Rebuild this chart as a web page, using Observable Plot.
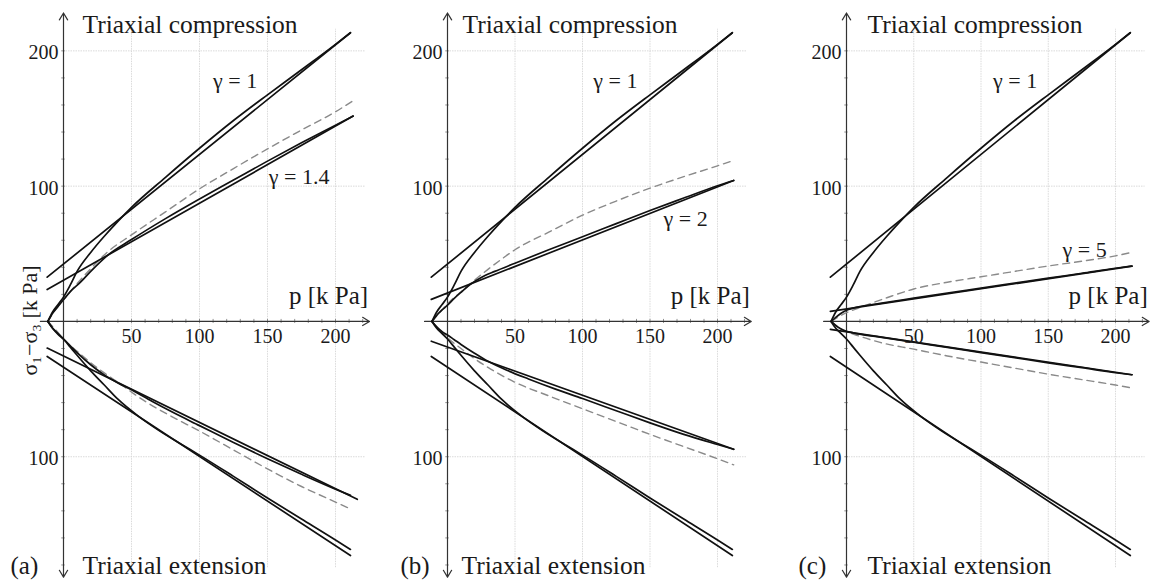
<!DOCTYPE html>
<html><head><meta charset="utf-8">
<script src="https://cdn.jsdelivr.net/npm/d3@7"></script>
<script src="https://cdn.jsdelivr.net/npm/@observablehq/plot@0.6"></script>
<style>
body{margin:0;background:#fff;}
#wrap{position:relative;width:1153px;height:583px;overflow:hidden;background:#fff;}
#wrap svg{position:absolute;top:0;overflow:visible;}
</style></head><body><div id="wrap"></div>
<script>
// ---------- axis / tick data ----------
const P_TICKS = [50, 100, 150, 200];
const P_MINOR = [10, 20, 30, 40, 60, 70, 80, 90, 110, 120, 130, 140, 160, 170, 180, 190, 210, 220];
const Q_LABELS = [200, 100, -100];
const Q_MINOR = [20, 40, 60, 80, 120, 140, 160, 180, -20, -40, -60, -80, -120, -140, -160, -180];
const AXIS_P = [-17, 225];
const AXIS_Q = [-189, 228];
const GRID_Q_SPAN = [-182, 216];
const GRID_P_SPAN = [0, 222];

const PANEL_IDS = ["(a)", "(b)", "(c)"];
const GAMMA_TEXT = ["γ = 1.4", "γ = 2", "γ = 5"];
const GAMMA_P = [151, 160, 160.6];
const GAMMA_Q = [107, 76, 52.5];
const GAMMA1_TEXT = "γ = 1";
const GAMMA1_P = [110, 108, 109];
const GAMMA1_Q = 178;
const TITLE_TOP = "Triaxial compression";
const TITLE_BOTTOM = "Triaxial extension";
const TITLE_Q = [219, -181];
const P_LABEL = "p [k Pa]";
const P_LABEL_POS = [224, 18.5];
const Q_LABEL = "σ₁−σ₃ [k Pa]";
const Q_LABEL_POS = [-25, 0.7];

// ---------- gamma = 1 (same in all panels) ----------
const G1_COMP_LINE_P = [-12, 211];
const G1_COMP_LINE_Q = [32.7, 213.4];
const G1_COMP_CURVE_P = [-11.5, -8, -4, 0, 5, 10, 20, 30, 40, 50, 75, 100, 125, 150, 175, 200, 211];
const G1_COMP_CURVE_Q = [0, 7, 12.5, 18, 27, 37, 51, 63, 74, 84.3, 106.5, 128, 148.5, 167.5, 186, 204.8, 213.4];
const G1_EXT_LINE_P = [-12, 211];
const G1_EXT_LINE_Q = [-25.9, -173];
const G1_EXT_CURVE_P = [-11.5, -8, -4, 0, 5, 10, 20, 30, 40, 55, 70, 86, 100, 125, 150, 175, 200, 211];
const G1_EXT_CURVE_Q = [0, -5, -9, -13, -19, -25, -36.5, -47, -57.5, -70, -80.5, -90.4, -98.8, -114.5, -130.5, -146, -161.5, -168.5];

// ---------- panel (a): gamma = 1.4 ----------
const A_COMP_LINE_P = [-12, 213];
const A_COMP_LINE_Q = [23.6, 151.8];
const A_COMP_CURVE_P = [-11.5, -8, -4, 0, 5, 12.5, 20, 32, 50, 75, 100, 125, 150, 175, 200, 213];
const A_COMP_CURVE_Q = [0, 6, 11, 16, 22, 29, 37, 48.5, 60.5, 76, 90.5, 104.5, 118.5, 132, 145, 151.8];
const A_EXT_LINE_P = [-12, 216];
const A_EXT_LINE_Q = [-19.7, -131.5];
const A_EXT_CURVE_P = [-11.5, -8, -4, 0, 5, 10, 20, 30, 40, 50, 65, 80, 100, 125, 150, 175, 200, 211];
const A_EXT_CURVE_Q = [0, -5, -9.5, -13, -18, -23, -32, -39.5, -45.5, -50.5, -59, -67, -77, -89.5, -101.5, -113, -124, -128.5];
const A_DASH_COMP_P = [-11.5, -5, 0, 10, 20, 32, 50, 75, 100, 125, 150, 175, 200, 212];
const A_DASH_COMP_Q = [0, 10, 16, 28, 39, 51, 64, 81, 98, 113, 127.5, 141.5, 155, 162.5];
const A_DASH_EXT_P = [-11.5, -5, 0, 10, 20, 30, 40, 59, 80, 100, 125, 150, 175, 200, 212];
const A_DASH_EXT_Q = [0, -7, -13, -22, -30.5, -38, -45, -58.4, -70.5, -81, -95, -109, -122, -133.5, -139];

// ---------- panel (b): gamma = 2 ----------
const B_COMP_LINE_P = [-12, 212];
const B_COMP_LINE_Q = [16.3, 104.2];
const B_COMP_CURVE_P = [-11.5, -8, -4, 0, 5, 10, 17, 25, 35, 50, 75, 100, 125, 150, 175, 200, 212];
const B_COMP_CURVE_Q = [0, 4.5, 8.5, 12, 17, 21.5, 27.5, 32.5, 37, 43, 53, 62.6, 72.3, 82, 91.2, 100.3, 104.2];
const B_EXT_LINE_P = [-12, 212];
const B_EXT_LINE_Q = [-14.6, -94.5];
const B_EXT_CURVE_P = [-11.5, -8, -4, 0, 5, 10, 20, 30, 45, 60, 80, 100, 125, 150, 175, 200, 212];
const B_EXT_CURVE_Q = [0, -4, -7.5, -10, -13.5, -17, -23.5, -29.5, -36.5, -42.5, -50, -57, -66, -75, -83.5, -91, -94.5];
const B_DASH_COMP_P = [-11.5, -5, 0, 10, 20, 30, 40, 50, 75, 100, 125, 150, 175, 200, 212];
const B_DASH_COMP_Q = [0, 7.5, 13, 22, 30.5, 38.5, 46, 53, 66, 78.5, 89, 98.5, 107, 115, 119];
const B_DASH_EXT_P = [-11.5, -5, 0, 10, 20, 30, 50, 75, 100, 125, 150, 175, 200, 212];
const B_DASH_EXT_Q = [0, -7, -12, -20, -27.5, -34, -45, -55, -64.5, -74, -83.5, -92.5, -101.5, -106];

// ---------- panel (c): gamma = 5 ----------
const C_COMP_LINE_P = [-12, 212.4];
const C_COMP_LINE_Q = [7.4, 40.9];
const C_COMP_CURVE_P = [-11.3, -8, -4, 0, 5, 10, 25, 50, 75, 100, 125, 150, 175, 200, 212];
const C_COMP_CURVE_Q = [0, 3, 6, 8.3, 9.8, 11, 13.4, 17.2, 21, 24.6, 28.3, 32, 35.6, 39.3, 40.9];
const C_EXT_LINE_P = [-12, 212.4];
const C_EXT_LINE_Q = [-5.8, -39.4];
const C_EXT_CURVE_P = [-11.3, -8, -4, 0, 5, 10, 25, 50, 75, 100, 125, 150, 175, 200, 212];
const C_EXT_CURVE_Q = [0, -3, -5.5, -7.2, -8.4, -9.4, -11.6, -15.4, -19.2, -23, -26.8, -30.6, -34.2, -37.9, -39.4];
const C_DASH_COMP_P = [-11.3, -5, 0, 8, 20, 30, 50, 75, 100, 125, 150, 175, 200, 211];
const C_DASH_COMP_Q = [0, 4, 6.5, 9.5, 14, 17.5, 24, 29, 33, 37, 41, 44.5, 48.5, 50.8];
const C_DASH_EXT_P = [-11.3, -5, 0, 10, 25, 50, 75, 100, 125, 150, 175, 200, 211];
const C_DASH_EXT_Q = [0, -5, -7.5, -11, -15.5, -20.5, -25.5, -30, -34.5, -39, -43, -47, -49];

// ---------- build tables ----------
const zip = (key, ps, qs) => ps.map((p, i) => ({key, p, q: qs[i]}));
const PANEL_SOLID = [
  [["ac", A_COMP_LINE_P, A_COMP_LINE_Q], ["acc", A_COMP_CURVE_P, A_COMP_CURVE_Q], ["ae", A_EXT_LINE_P, A_EXT_LINE_Q], ["aec", A_EXT_CURVE_P, A_EXT_CURVE_Q]],
  [["bc", B_COMP_LINE_P, B_COMP_LINE_Q], ["bcc", B_COMP_CURVE_P, B_COMP_CURVE_Q], ["be", B_EXT_LINE_P, B_EXT_LINE_Q], ["bec", B_EXT_CURVE_P, B_EXT_CURVE_Q]],
  [["cc", C_COMP_LINE_P, C_COMP_LINE_Q], ["ccc", C_COMP_CURVE_P, C_COMP_CURVE_Q], ["ce", C_EXT_LINE_P, C_EXT_LINE_Q], ["cec", C_EXT_CURVE_P, C_EXT_CURVE_Q]]
];
const PANEL_DASH = [
  [["d1", A_DASH_COMP_P, A_DASH_COMP_Q], ["d2", A_DASH_EXT_P, A_DASH_EXT_Q]],
  [["d1", B_DASH_COMP_P, B_DASH_COMP_Q], ["d2", B_DASH_EXT_P, B_DASH_EXT_Q]],
  [["d1", C_DASH_COMP_P, C_DASH_COMP_Q], ["d2", C_DASH_EXT_P, C_DASH_EXT_Q]]
];
const G1_SERIES = [["g1c", G1_COMP_LINE_P, G1_COMP_LINE_Q], ["g1cc", G1_COMP_CURVE_P, G1_COMP_CURVE_Q], ["g1e", G1_EXT_LINE_P, G1_EXT_LINE_Q], ["g1ec", G1_EXT_CURVE_P, G1_EXT_CURVE_Q]];

// ---------- layout ----------
const XDOM = [-20, 225], YDOM = [-190, 235];
const H = 583, MT = 3, MB = 5;
const LAYOUT = [
  {left: 0, width: 383, axisPx: 63, sx: 1.36, titleDx: 19, extDx: 19, letterDx: -53},
  {left: 383, width: 399, axisPx: 447, sx: 1.35, titleDx: 15, extDx: 14, letterDx: -47},
  {left: 782, width: 371, axisPx: 846, sx: 1.345, titleDx: 21, extDx: 21, letterDx: -48}
];
const FONT = "Liberation Serif, DejaVu Serif, serif";
const INK = "#1a1a1a";

const wrap = document.getElementById("wrap");
LAYOUT.forEach((L, i) => {
  const ml = L.axisPx - L.left - (0 - XDOM[0]) * L.sx;
  const mr = L.width - ml - (XDOM[1] - XDOM[0]) * L.sx;
  const solid = [...G1_SERIES, ...PANEL_SOLID[i]].flatMap(([k, ps, qs]) => zip(k, ps, qs));
  const dash = PANEL_DASH[i].flatMap(([k, ps, qs]) => zip(k, ps, qs));
  const marks = [
    Plot.ruleX(P_TICKS, {x: d => d, y1: GRID_Q_SPAN[0], y2: GRID_Q_SPAN[1], stroke: "#d6d6d6", strokeWidth: 0.9, strokeDasharray: "1.5,1"}),
    Plot.ruleY(Q_LABELS, {y: d => d, x1: GRID_P_SPAN[0], x2: GRID_P_SPAN[1], stroke: "#d6d6d6", strokeWidth: 0.9, strokeDasharray: "1.5,1"}),
    Plot.ruleX([...P_MINOR, ...P_TICKS], {x: d => d, y1: -1.5, y2: 1.5, stroke: "#777", strokeWidth: 0.8}),
    Plot.ruleY([...Q_MINOR, ...Q_LABELS], {y: d => d, x1: -1.3, x2: 1.3, stroke: "#777", strokeWidth: 0.8}),
    Plot.arrow([{x1: AXIS_P[0], y1: 0, x2: AXIS_P[1], y2: 0}], {x1: "x1", y1: "y1", x2: "x2", y2: "y2", stroke: "#333", strokeWidth: 1.2, headLength: 10, headAngle: 62}),
    Plot.arrow([{x1: 0, y1: 0, x2: 0, y2: AXIS_Q[1]}, {x1: 0, y1: 0, x2: 0, y2: AXIS_Q[0]}], {x1: "x1", y1: "y1", x2: "x2", y2: "y2", stroke: "#333", strokeWidth: 1.2, headLength: 10, headAngle: 62}),
    Plot.line(dash, {x: "p", y: "q", z: "key", curve: "monotone-x", stroke: "#8a8a8a", strokeWidth: 1.4, strokeDasharray: "7,5"}),
    Plot.line(solid, {x: "p", y: "q", z: "key", curve: "monotone-x", stroke: "#111", strokeWidth: 1.7}),
    Plot.text(P_TICKS, {x: d => d, y: 0, dy: 15, text: d => String(d), fontSize: 20, fontFamily: FONT, fill: INK}),
    Plot.text(Q_LABELS, {x: 0, y: d => d, dx: -5, dy: 2, text: d => String(Math.abs(d)), textAnchor: "end", fontSize: 20, fontFamily: FONT, fill: INK}),
    Plot.text([TITLE_TOP], {x: 0, y: TITLE_Q[0], dx: L.titleDx, text: d => d, textAnchor: "start", fontSize: 25.5, fontFamily: FONT, fill: INK}),
    Plot.text([TITLE_BOTTOM], {x: 0, y: TITLE_Q[1], dx: L.extDx, text: d => d, textAnchor: "start", fontSize: 25.5, fontFamily: FONT, fill: INK}),
    Plot.text([PANEL_IDS[i]], {x: 0, y: TITLE_Q[1], dx: L.letterDx, text: d => d, textAnchor: "start", fontSize: 25, fontFamily: FONT, fill: INK}),
    Plot.text([P_LABEL], {x: P_LABEL_POS[0], y: P_LABEL_POS[1], text: d => d, textAnchor: "end", fontSize: 25, fontFamily: FONT, fill: INK}),
    Plot.text([GAMMA1_TEXT], {x: GAMMA1_P[i], y: GAMMA1_Q, text: d => d, textAnchor: "start", fontSize: 22, fontFamily: FONT, fill: INK}),
    Plot.text([GAMMA_TEXT[i]], {x: GAMMA_P[i], y: GAMMA_Q[i], text: d => d, textAnchor: "start", fontSize: 22, fontFamily: FONT, fill: INK})
  ];
  if (i === 0) {
    marks.push(Plot.text([Q_LABEL], {x: Q_LABEL_POS[0], y: Q_LABEL_POS[1], text: d => d, rotate: -90, fontSize: 22, fontFamily: FONT, fill: INK}));
  }
  const svg = Plot.plot({
    width: L.width, height: H, marginTop: MT, marginBottom: MB, marginLeft: ml, marginRight: mr,
    x: {domain: XDOM, axis: null}, y: {domain: YDOM, axis: null},
    style: {overflow: "visible", background: "transparent"},
    marks
  });
  svg.style.left = L.left + "px";
  wrap.appendChild(svg);
});
</script></body></html>
